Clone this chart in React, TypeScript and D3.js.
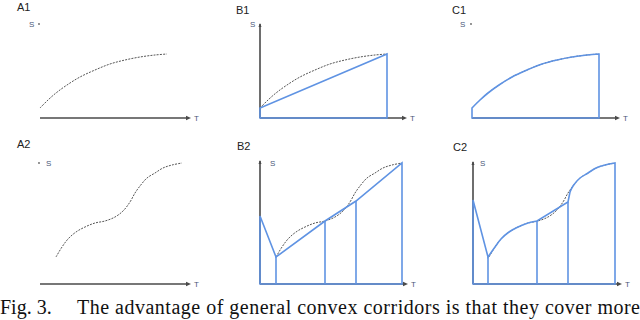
import React from "react";
import * as d3 from "d3";

// Top-row reference trajectory S(T)
const tTop = [0, 8, 16, 27, 40, 55, 70, 85, 100, 115, 127];
const sTop = [10, 18, 25, 33, 41, 48, 54, 58, 61, 63, 64];

// Bottom-row reference trajectory S(T)
const tBottom = [16, 22, 28, 36, 45, 55, 65, 75, 83, 90, 95, 100, 107, 115, 123, 132, 142];
const sBottom = [27, 37, 45, 52, 57, 61, 63, 67, 73, 82, 91, 98, 106, 111, 116, 119, 121];

// B1 corridor chord
const tB1 = [0, 127];
const sB1 = [10, 64];

// B2 corridor knots (first point = start on S axis)
const tB2 = [0, 16, 65, 96, 142];
const sB2 = [68, 27, 63, 83, 121];

// C2 corridor pieces
const tC2a = [0, 15];
const sC2a = [84, 27];
const tC2b = [15, 22, 28, 36, 45, 55, 64];
const sC2b = [27, 37, 45, 52, 57, 61, 63];
const tC2c = [64, 95, 97];
const sC2c = [63, 82, 92];
const tC2d = [97, 100, 107, 115, 123, 132, 142];
const sC2d = [92, 98, 106, 111, 116, 119, 121];
const tC2v = [15, 64, 95, 142];

const panelLabels = ["A1", "B1", "C1", "A2", "B2", "C2"];
const axisLabelS = "S";
const axisLabelT = "T";
const captionLead = "Fig. 3.";
const captionText = "The advantage of general convex corridors is that they cover more";

const BLUE = "#5f93e3";
const AXIS = "#4a4a4a";
const LBL = "#4a5878";

type P = [number, number];
const zip = (a: number[], b: number[]): P[] => a.map((v, i) => [v, b[i]]);

function Panel(props: {
  x0: number; y0: number; axisLen: number; label: string; lx: number; ly: number;
  yTop: number | null; dotTop: number; sx: number; sy: number; kind: string;
}) {
  const { x0, y0, axisLen, label, lx, ly, yTop, dotTop, sx, sy, kind } = props;
  const x = d3.scaleLinear().domain([0, 150]).range([x0, x0 + 150]);
  const y = d3.scaleLinear().domain([0, 100]).range([y0, y0 - 100]);
  const lineC = d3.line<P>().x(d => x(d[0])).y(d => y(d[1])).curve(d3.curveCatmullRom.alpha(0.5));
  const lineL = d3.line<P>().x(d => x(d[0])).y(d => y(d[1]));
  const top = kind[1] === "1";
  const ref = top ? zip(tTop, sTop) : zip(tBottom, sBottom);
  const xEnd = x0 + axisLen;
  const els: React.ReactNode[] = [];

  // x axis
  els.push(<line key="xa" x1={x0} y1={y0} x2={xEnd - 3} y2={y0} stroke={AXIS} strokeWidth={1.6} />);
  els.push(<path key="xh" d={`M${xEnd},${y0} L${xEnd - 5},${y0 - 2.2} L${xEnd - 5},${y0 + 2.2} Z`} fill={AXIS} />);
  els.push(<text key="tl" x={xEnd + 3} y={y0 + 3} fontSize={8} fill={LBL} fontFamily="Arial, Liberation Sans">{axisLabelT}</text>);

  // y axis
  if (yTop !== null) {
    els.push(<line key="ya" x1={x0} y1={y0} x2={x0} y2={yTop} stroke={AXIS} strokeWidth={1.6} />);
    els.push(<path key="yh" d={`M${x0},${yTop - 1} L${x0 - 1.5},${yTop + 3} L${x0 + 1.5},${yTop + 3} Z`} fill={AXIS} />);
  } else {
    els.push(<circle key="yd" cx={x0 - 1} cy={dotTop} r={0.9} fill="#666" />);
  }
  els.push(<text key="sl" x={sx} y={sy} fontSize={8} fill={LBL} fontFamily="Arial, Liberation Sans">{axisLabelS}</text>);

  // reference trajectory (dashed)
  els.push(<path key="ref" d={lineC(ref) || ""} fill="none" stroke="#555" strokeWidth={1} strokeDasharray="2,1.2" />);

  const blue = { fill: "none", stroke: BLUE, strokeWidth: 1.6 } as const;
  if (kind === "B1") {
    const c = zip(tB1, sB1);
    els.push(<path key="b" {...blue} d={`M${x(c[0][0])},${y(0)} L${x(c[0][0])},${y(c[0][1])} L${x(c[1][0])},${y(c[1][1])} L${x(c[1][0])},${y(0)} Z`} />);
  }
  if (kind === "C1") {
    const s = lineC(ref) || "";
    const last = ref[ref.length - 1];
    els.push(<path key="b" {...blue} d={`M${x(0)},${y(0)} L${x(ref[0][0])},${y(ref[0][1])} ${s.replace(/^M/, "L")} L${x(last[0])},${y(0)} Z`} />);
  }
  if (kind === "B2") {
    const c = zip(tB2, sB2);
    els.push(<path key="b" {...blue} d={`M${x(0)},${y(0)} ${(lineL(c) || "").replace(/^M/, "L")} L${x(tB2[tB2.length - 1])},${y(0)} Z`} />);
    tB2.slice(1, -1).forEach((t, i) => {
      els.push(<line key={"v" + i} x1={x(t)} x2={x(t)} y1={y(0)} y2={y(sB2[i + 1])} stroke={BLUE} strokeWidth={1.6} />);
    });
  }
  if (kind === "C2") {
    const pa = (lineL(zip(tC2a, sC2a)) || "").replace(/^M/, "L");
    const pb = (lineC(zip(tC2b, sC2b)) || "").replace(/^M[^CL]*/, "");
    const pc = (lineL(zip(tC2c, sC2c)) || "").replace(/^M[^CL]*/, "");
    const pd = (lineC(zip(tC2d, sC2d)) || "").replace(/^M[^CL]*/, "");
    const endT = tC2d[tC2d.length - 1];
    els.push(<path key="b" {...blue} d={`M${x(0)},${y(0)} ${pa} ${pb} ${pc} ${pd} L${x(endT)},${y(0)} Z`} />);
    tC2v.slice(0, -1).forEach((t, i) => {
      const s = t === 15 ? 27 : t === 64 ? 63 : 82;
      els.push(<line key={"v" + i} x1={x(t)} x2={x(t)} y1={y(0)} y2={y(s)} stroke={BLUE} strokeWidth={1.6} />);
    });
  }

  els.push(<text key="pl" x={lx} y={ly} fontSize={11} fill="#222" fontFamily="Arial, Liberation Sans">{label}</text>);
  return <g>{els}</g>;
}

export default function App() {
  return (
    <svg width={640} height={320} style={{ position: "absolute", left: 0, top: 0, background: "#fff" }}>
      <rect width={640} height={320} fill="#fff" />
      <Panel kind="A1" label={panelLabels[0]} x0={40} y0={118} axisLen={151} lx={17} ly={11} yTop={null} dotTop={24} sx={29} sy={27} />
      <Panel kind="B1" label={panelLabels[1]} x0={260} y0={118} axisLen={147} lx={236} ly={14} yTop={24} dotTop={24} sx={250} sy={27} />
      <Panel kind="C1" label={panelLabels[2]} x0={472} y0={118} axisLen={148} lx={452} ly={14} yTop={null} dotTop={24} sx={460} sy={27} />
      <Panel kind="A2" label={panelLabels[3]} x0={40} y0={284} axisLen={151} lx={17} ly={148} yTop={null} dotTop={163} sx={46} sy={166} />
      <Panel kind="B2" label={panelLabels[4]} x0={260} y0={284} axisLen={148} lx={237} ly={150} yTop={161} dotTop={161} sx={270} sy={166} />
      <Panel kind="C2" label={panelLabels[5]} x0={473} y0={284} axisLen={149} lx={453} ly={151} yTop={162} dotTop={162} sx={480} sy={166} />
      <text x={0} y={314} fontSize={20} fontFamily="Liberation Serif, Times New Roman, serif" fill="#111">{captionLead}</text>
      <text x={77} y={314} fontSize={20} fontFamily="Liberation Serif, Times New Roman, serif" fill="#111" textLength={563} lengthAdjust="spacing">{captionText}</text>
    </svg>
  );
}
